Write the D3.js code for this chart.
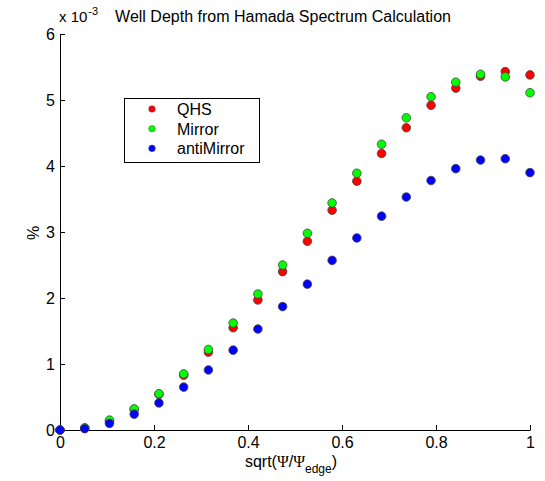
<!DOCTYPE html>
<html><head><meta charset="utf-8">
<script src="https://cdn.jsdelivr.net/npm/d3@7"></script>
<style>body{margin:0;background:#fff}svg{font-family:"Liberation Sans",Arial,sans-serif}</style>
</head><body><svg id="c" width="545" height="481"></svg>
<script>
const xValues = d3.range(20).map(i => i / 19);
const qhs = [0, 0.03, 0.13, 0.31, 0.54, 0.83, 1.18, 1.55, 1.97, 2.40, 2.86, 3.33, 3.77, 4.19, 4.58, 4.92, 5.18, 5.36, 5.43, 5.38];
const mirror = [0, 0.03, 0.15, 0.32, 0.55, 0.85, 1.22, 1.62, 2.06, 2.50, 2.98, 3.44, 3.89, 4.33, 4.73, 5.05, 5.27, 5.39, 5.35, 5.11];
const antiMirror = [0, 0.02, 0.10, 0.24, 0.41, 0.65, 0.91, 1.21, 1.53, 1.87, 2.21, 2.57, 2.91, 3.24, 3.53, 3.78, 3.96, 4.09, 4.11, 3.90];
const seriesNames = ["QHS", "Mirror", "antiMirror"];
const seriesColors = ["#ff0000", "#00ff00", "#0000ff"];
const xTicks = [0, 0.2, 0.4, 0.6, 0.8, 1];
const yTicks = [0, 1, 2, 3, 4, 5, 6];

const svg = d3.select("#c");
const x = d3.scaleLinear().domain([0, 1]).range([60, 530]);
const y = d3.scaleLinear().domain([0, 6]).range([430, 34]);

const xAxis = d3.axisBottom(x).tickValues(xTicks).tickSizeInner(-5).tickSizeOuter(0).tickPadding(7)
  .tickFormat(d => d === 0 || d === 1 ? d3.format("d")(d) : d3.format(".1f")(d));
const gx = svg.append("g").attr("transform", `translate(0,${y(0)})`).call(xAxis);
gx.select(".domain").attr("stroke", "#000");
gx.selectAll("text").attr("font-size", 16).attr("fill", "#000").attr("font-family", "Liberation Sans, Arial");

const yAxis = d3.axisLeft(y).tickValues(yTicks).tickSizeInner(-5).tickSizeOuter(0).tickPadding(5).tickFormat(d3.format("d"));
const gy = svg.append("g").attr("transform", `translate(${x(0)},0)`).call(yAxis);
gy.select(".domain").attr("stroke", "#000");
gy.selectAll("text").attr("font-size", 16).attr("fill", "#000").attr("font-family", "Liberation Sans, Arial");

// exponent
const ex = svg.append("text").attr("x", 59).attr("y", 22).attr("font-size", 15).attr("fill", "#000");
ex.append("tspan").text("x 10");
ex.append("tspan").attr("font-size", 11).attr("dy", -7).attr("dx", 1).text("-3");

svg.append("text").attr("x", 283).attr("y", 22).attr("text-anchor", "middle").attr("font-size", 16)
  .text("Well Depth from Hamada Spectrum Calculation");

const xl = svg.append("text").attr("x", 291).attr("y", 467).attr("text-anchor", "middle").attr("font-size", 16);
xl.append("tspan").text("sqrt(");
xl.append("tspan").attr("font-family", "Liberation Serif, serif").text("Ψ");
xl.append("tspan").text("/");
xl.append("tspan").attr("font-family", "Liberation Serif, serif").text("Ψ");
xl.append("tspan").attr("font-size", 12).attr("dy", 6).text("edge");
xl.append("tspan").attr("dy", -6).text(")");

svg.append("text").attr("transform", "translate(39,233) rotate(-90)").attr("text-anchor", "middle")
  .attr("font-size", 16).text("%");

const all = [qhs, mirror, antiMirror];
all.forEach((vals, si) => {
  svg.append("g").selectAll("circle").data(vals).join("circle")
    .attr("cx", (d, i) => x(xValues[i])).attr("cy", d => y(d)).attr("r", 4.3)
    .attr("fill", seriesColors[si]).attr("stroke", "#444").attr("stroke-width", 0.8);
});

// legend
const lg = svg.append("g");
lg.append("rect").attr("x", 124.5).attr("y", 98.5).attr("width", 135).attr("height", 64)
  .attr("fill", "#fff").attr("stroke", "#000").attr("stroke-width", 1);
seriesNames.forEach((n, i) => {
  const yy = 109 + i * 19.7;
  lg.append("circle").attr("cx", 152).attr("cy", yy).attr("r", 3.3).attr("fill", seriesColors[i]).attr("stroke", "#555").attr("stroke-width", 0.5);
  lg.append("text").attr("x", 177).attr("y", yy + 6).attr("font-size", 16).text(n);
});
</script></body></html>
